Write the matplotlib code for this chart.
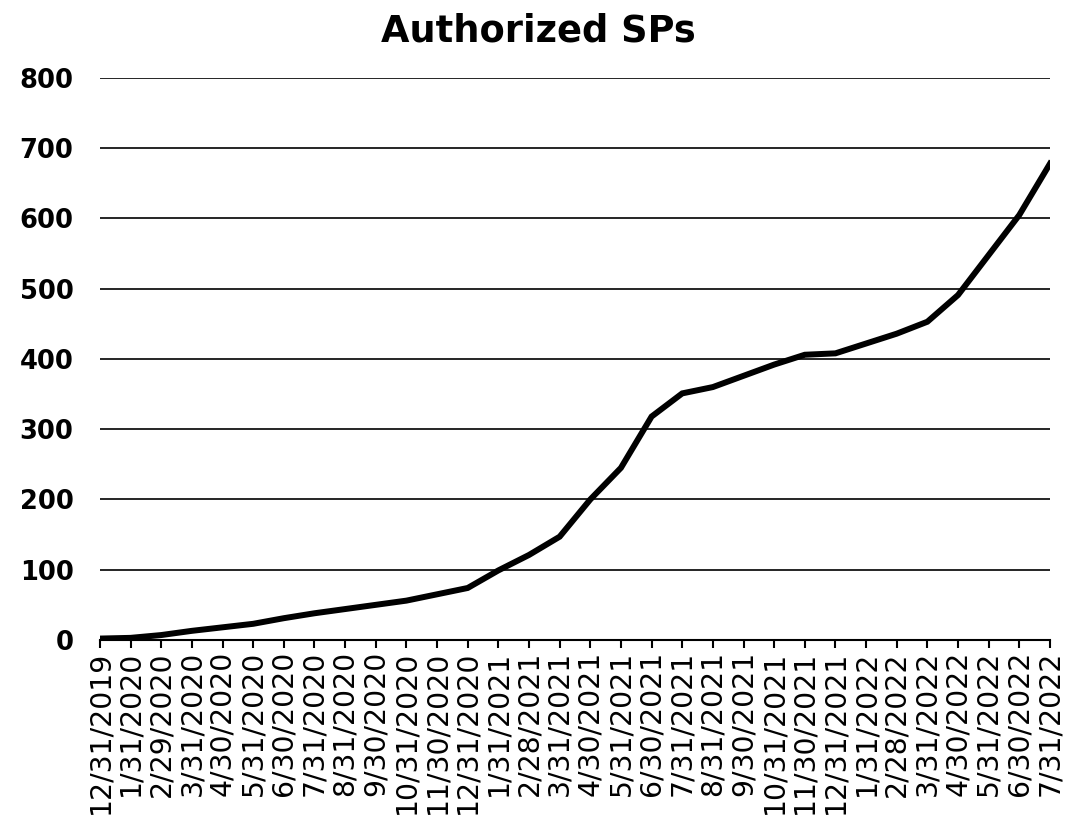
import matplotlib
matplotlib.use("Agg")
import matplotlib.pyplot as plt
import numpy as np

# month-end dates and authorized SP counts
dates = ["12/31/2019", "1/31/2020", "2/29/2020", "3/31/2020", "4/30/2020", "5/31/2020",
         "6/30/2020", "7/31/2020", "8/31/2020", "9/30/2020", "10/31/2020", "11/30/2020",
         "12/31/2020", "1/31/2021", "2/28/2021", "3/31/2021", "4/30/2021", "5/31/2021",
         "6/30/2021", "7/31/2021", "8/31/2021", "9/30/2021", "10/31/2021", "11/30/2021",
         "12/31/2021", "1/31/2022", "2/28/2022", "3/31/2022", "4/30/2022", "5/31/2022",
         "6/30/2022", "7/31/2022"]
sps = [2, 3, 7, 13, 18, 23, 31, 38, 44, 50, 56, 65,
       74, 99, 121, 147, 200, 245, 318, 351, 360, 376, 392, 406,
       408, 422, 436, 453, 491, 548, 605, 678]
y_ticks = [0, 100, 200, 300, 400, 500, 600, 700, 800]

plt.rcParams["font.family"] = ["DejaVu Sans"]

fig = plt.figure(figsize=(10.76, 8.19), dpi=100)
ax = fig.add_axes([0.0929, 0.2186, 0.8829, 0.6862])

x = np.arange(len(dates))
ax.plot(x, sps, color="black", linewidth=4.3, solid_joinstyle="miter", zorder=3)

ax.set_xlim(0, len(dates) - 1)
ax.set_ylim(0, 800)
ax.set_yticks(y_ticks)
ax.set_yticklabels([str(v) for v in y_ticks], fontsize=18.5, fontweight="bold")
ax.set_xticks(x)
ax.set_xticklabels(dates, rotation=90, fontsize=20.3)

ax.yaxis.grid(True, color="black", linewidth=1.2)
ax.set_axisbelow(True)
for side in ["left", "right", "top"]:
    ax.spines[side].set_visible(False)
ax.spines["bottom"].set_linewidth(1.5)
ax.tick_params(axis="y", length=0, pad=19)
ax.tick_params(axis="x", length=6, width=1.5, direction="out", pad=2)

# title is centred on the whole figure, not on the plot area
fig.suptitle("Authorized SPs", fontsize=26.5, fontweight="bold", x=0.5, y=0.985, va="top")

fig.savefig("out.png", dpi=100)
